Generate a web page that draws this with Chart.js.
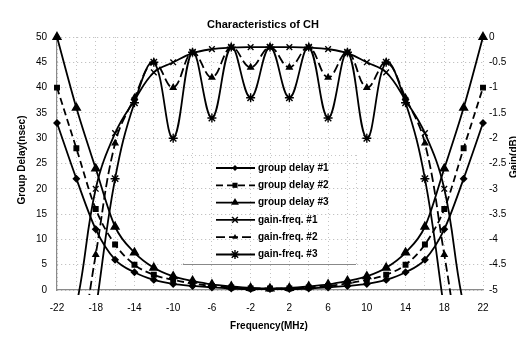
<!DOCTYPE html>
<html>
<head>
<meta charset="utf-8">
<script src="https://cdn.jsdelivr.net/npm/chart.js@4/dist/chart.umd.min.js"></script>
<style>
html,body{margin:0;padding:0;background:#fff;}
#wrap{width:516px;height:339px;position:relative;}
</style>
</head>
<body>
<div id="wrap"><canvas id="c" width="516" height="339"></canvas></div>
<script>
// ---- data ----
const freq = [-22,-20,-18,-16,-14,-12,-10,-8,-6,-4,-2,0,2,4,6,8,10,12,14,16,18,20,22];
const gd1 = [33,22,12,6,3.5,2,1.2,0.8,0.5,0.3,0.2,0.2,0.2,0.3,0.5,0.8,1.2,2,3.5,6,12,22,33];
const gd2 = [40,28,16,9,5,3,2,1.3,0.8,0.5,0.3,0.3,0.3,0.5,0.8,1.3,2,3,5,9,16,28,40];
const gd3 = [50,36,24,12.5,7.4,4.4,2.7,1.8,1.1,0.7,0.4,0.3,0.4,0.7,1.1,1.8,2.7,4.4,7.4,12.5,24,36,50];
const gain1 = [-6.5,-5.3,-3.0,-1.9,-1.25,-0.7,-0.5,-0.32,-0.24,-0.21,-0.2,-0.2,-0.2,-0.21,-0.24,-0.32,-0.5,-0.7,-1.25,-1.9,-3.0,-5.3,-6.5];
const gain2 = [-8,-6.6,-4.3,-2.1,-1.2,-0.5,-1.0,-0.3,-0.8,-0.2,-0.6,-0.2,-0.6,-0.2,-0.8,-0.3,-1.0,-0.5,-1.2,-2.1,-4.3,-6.6,-8];
const gain3 = [-10,-8,-5.4,-2.8,-1.3,-0.5,-2.0,-0.3,-1.6,-0.2,-1.2,-0.2,-1.2,-0.2,-1.6,-0.3,-2.0,-0.5,-1.3,-2.8,-5.4,-8,-10];
const seriesNames = ['group delay #1','group delay #2','group delay #3','gain-freq. #1','gain-freq. #2','gain-freq. #3'];
const chartTitle = 'Characteristics of CH';
const xTitle = 'Frequency(MHz)';
const yTitle = 'Group Delay(nsec)';
const y2Title = 'Gain(dB)';

const FONT = '"Liberation Sans", Arial, sans-serif';
const pts = arr => arr.map((v,i)=>({x:freq[i], y:v}));

function ds(label, data, axis, style, radius, dash, gain){
  return {
    label, data: pts(data), yAxisID: axis,
    borderColor:'#000', backgroundColor:'#000', borderWidth:1.8,
    borderDash: dash,
    pointStyle: style, pointRadius: radius, pointBorderWidth: 1.4,
    pointBackgroundColor:'#000', pointBorderColor:'#000',
    tension: gain ? 0.4 : 0.3,
    cubicInterpolationMode: gain ? 'default' : 'monotone',
    capBezierPoints: false,
    clip: gain ? {left:6, right:6, top:6, bottom:5} : false
  };
}
const datasets = [
  ds(seriesNames[0], gd1, 'y', 'rectRot', 3, [], false),
  ds(seriesNames[1], gd2, 'y', 'rect', 3.2, [7,4], false),
  ds(seriesNames[2], gd3, 'y', 'triangle', 4.5, [], false),
  ds(seriesNames[3], gain1, 'y2', 'crossRot', 4, [], true),
  ds(seriesNames[4], gain2, 'y2', 'triangle', 3.2, [9,4], true),
  ds(seriesNames[5], gain3, 'y2', 'star', 4.5, [], true)
];

function marker(ctx, style, x, y, r){
  ctx.save();
  ctx.setLineDash([]);
  ctx.fillStyle='#000'; ctx.strokeStyle='#000'; ctx.lineWidth=1.4;
  ctx.beginPath();
  if(style==='rectRot'){ ctx.moveTo(x,y-r);ctx.lineTo(x+r,y);ctx.lineTo(x,y+r);ctx.lineTo(x-r,y);ctx.closePath();ctx.fill(); }
  else if(style==='rect'){ const s=r*0.8; ctx.rect(x-s,y-s,2*s,2*s); ctx.fill(); }
  else if(style==='triangle'){ ctx.moveTo(x,y-r);ctx.lineTo(x+r*0.87,y+r*0.5);ctx.lineTo(x-r*0.87,y+r*0.5);ctx.closePath();ctx.fill(); }
  else if(style==='crossRot'){ const s=r*0.7; ctx.moveTo(x-s,y-s);ctx.lineTo(x+s,y+s);ctx.moveTo(x+s,y-s);ctx.lineTo(x-s,y+s);ctx.stroke(); }
  else if(style==='star'){ const s=r*0.7; ctx.moveTo(x-s,y-s);ctx.lineTo(x+s,y+s);ctx.moveTo(x+s,y-s);ctx.lineTo(x-s,y+s);ctx.moveTo(x,y-r);ctx.lineTo(x,y+r);ctx.moveTo(x-r,y);ctx.lineTo(x+r,y);ctx.stroke(); }
  ctx.restore();
}

const overlay = {
  id:'overlay',
  afterDraw(chart){
    const ctx = chart.ctx;
    ctx.save();
    ctx.fillStyle='#000';
    ctx.textAlign='center'; ctx.textBaseline='middle';
    ctx.font='bold 11px '+FONT;
    ctx.fillText(chartTitle, 263, 25);
    ctx.font='bold 10px '+FONT;
    ctx.fillText(xTitle, 269, 326);
    ctx.save(); ctx.translate(22,160); ctx.rotate(-Math.PI/2); ctx.fillText(yTitle,0,0); ctx.restore();
    ctx.save(); ctx.translate(514,157); ctx.rotate(-Math.PI/2); ctx.fillText(y2Title,0,0); ctx.restore();

    // legend box
    const L=183, R=356, T=155, B=264;
    ctx.strokeStyle='#c8c8c8'; ctx.lineWidth=1; ctx.setLineDash([1,3]);
    ctx.beginPath(); ctx.moveTo(L,T+0.5); ctx.lineTo(R,T+0.5);
    ctx.moveTo(L+0.5,T); ctx.lineTo(L+0.5,B); ctx.moveTo(R+0.5,T); ctx.lineTo(R+0.5,B); ctx.stroke();
    ctx.setLineDash([]); ctx.strokeStyle='#888';
    ctx.beginPath(); ctx.moveTo(L,B+0.5); ctx.lineTo(R,B+0.5); ctx.stroke();

    chart.data.datasets.forEach((d,i)=>{
      const y = 168 + i*17.3;
      ctx.save();
      ctx.strokeStyle='#000'; ctx.lineWidth=1.8; ctx.setLineDash(d.borderDash||[]);
      ctx.beginPath(); ctx.moveTo(216,y); ctx.lineTo(255,y); ctx.stroke();
      ctx.restore();
      marker(ctx, d.pointStyle, 235, y, d.pointRadius);
      ctx.font='bold 10px '+FONT; ctx.textAlign='left'; ctx.fillStyle='#000';
      ctx.fillText(d.label, 258, y);
    });
    ctx.restore();
  }
};

new Chart(document.getElementById('c'), {
  type:'line',
  data:{datasets},
  plugins:[overlay],
  options:{
    responsive:false, animation:false, devicePixelRatio:1,
    layout:{padding:{top:37,left:0,right:0,bottom:0}},
    plugins:{legend:{display:false}, title:{display:false}, tooltip:{enabled:false}},
    scales:{
      x:{type:'linear', min:-22, max:22,
        ticks:{stepSize:2, autoSkip:false, maxRotation:0, padding:12, color:'#000',
          font:{family:FONT,size:10},
          callback:v=> ((v+22)%4===0 ? String(v) : '')},
        grid:{color:'#c4c4c4', lineWidth:1, drawTicks:false},
        border:{display:true, color:'#8a8a8a', width:1.2, dash:[1,3]},
        afterFit:s=>{s.height=49;}
      },
      y:{type:'linear', position:'left', min:0, max:50,
        ticks:{stepSize:5, padding:10, color:'#000', font:{family:FONT,size:10}},
        grid:{color:'#b4b4b4', lineWidth:1, drawTicks:false},
        border:{display:true, color:'#8a8a8a', width:1.2, dash:[1,3]},
        afterFit:s=>{s.width=57;}
      },
      y2:{type:'linear', position:'right', min:-5, max:0,
        ticks:{stepSize:0.5, padding:6, color:'#000', font:{family:FONT,size:10},
          callback:v=>String(Math.round(v*10)/10)},
        grid:{drawOnChartArea:false, drawTicks:false},
        border:{display:false},
        afterFit:s=>{s.width=33;}
      }
    }
  }
});
</script>
</body>
</html>
